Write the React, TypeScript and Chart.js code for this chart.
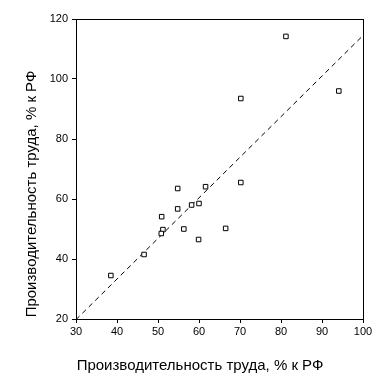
import React, { useEffect, useRef } from "react";
import { Chart, registerables } from "chart.js";

Chart.register(...registerables);

const xValues = [81.2, 94.1, 70.2, 70.2, 61.6, 54.8, 54.8, 58.2, 60.0, 50.9, 51.2, 50.8, 56.3, 59.9, 66.5, 46.6, 38.5];
const yValues = [114.2, 96.0, 93.5, 65.5, 64.1, 63.5, 56.7, 58.0, 58.5, 54.1, 49.8, 48.5, 50.0, 46.5, 50.2, 41.5, 34.5];
const lineX = [30, 100];
const lineY = [19.8, 114.5];
const axisTitle = "Производительность труда, % к РФ";

const framePlugin = {
  id: "frame",
  afterDraw(chart: any) {
    const { ctx, chartArea } = chart;
    const { left, top, right, bottom } = chartArea;
    ctx.save();
    ctx.strokeStyle = "#000";
    ctx.lineWidth = 1;
    ctx.strokeRect(Math.round(left) + 0.5, Math.round(top) + 0.5, Math.round(right - left), Math.round(bottom - top));
    ctx.fillStyle = "#000";
    ctx.font = "15px 'Liberation Sans', Arial, sans-serif";
    ctx.textAlign = "center";
    ctx.textBaseline = "middle";
    ctx.fillText(axisTitle, 200, 366);
    ctx.translate(32, 194);
    ctx.rotate(-Math.PI / 2);
    ctx.fillText(axisTitle, 0, 0);
    ctx.restore();
  },
};

export default function App() {
  const ref = useRef<HTMLCanvasElement>(null);
  useEffect(() => {
    document.body.style.margin = "0";
    const canvas = ref.current!;
    const chart = new Chart(canvas, {
      type: "scatter",
      data: {
        datasets: [
          {
            label: "points",
            data: xValues.map((x, i) => ({ x, y: yValues[i] })),
            pointStyle: "rect",
            pointRadius: 3.2,
            pointBorderColor: "#000",
            pointBackgroundColor: "#fff",
            pointBorderWidth: 1,
            showLine: false,
          },
          {
            label: "line",
            type: "line",
            data: lineX.map((x, i) => ({ x, y: lineY[i] })),
            borderColor: "#000",
            borderWidth: 1,
            borderDash: [5, 4],
            pointRadius: 0,
            fill: false,
          },
        ],
      },
      options: {
        animation: false,
        responsive: false,
        layout: { padding: { top: 19, right: 18, left: 0, bottom: 0 } },
        plugins: { legend: { display: false }, tooltip: { enabled: false } },
        scales: {
          x: {
            type: "linear",
            min: 30,
            max: 100,
            afterFit: (s: any) => { s.height = 69; },
            grid: { drawOnChartArea: false, drawTicks: true, tickLength: 4, color: "#000" },
            border: { color: "#000" },
            ticks: { stepSize: 10, color: "#000", padding: 2, font: { size: 11, family: "'Liberation Sans', Arial" }, maxRotation: 0 },
          },
          y: {
            type: "linear",
            min: 20,
            max: 120,
            afterFit: (s: any) => { s.width = 76; },
            grid: { drawOnChartArea: false, drawTicks: true, tickLength: 4, color: "#000" },
            border: { color: "#000" },
            ticks: { stepSize: 20, color: "#000", padding: 4, font: { size: 11, family: "'Liberation Sans', Arial" } },
          },
        },
      },
      plugins: [framePlugin],
    });
    return () => chart.destroy();
  }, []);
  return <canvas ref={ref} width={381} height={388} style={{ display: "block" }} />;
}
